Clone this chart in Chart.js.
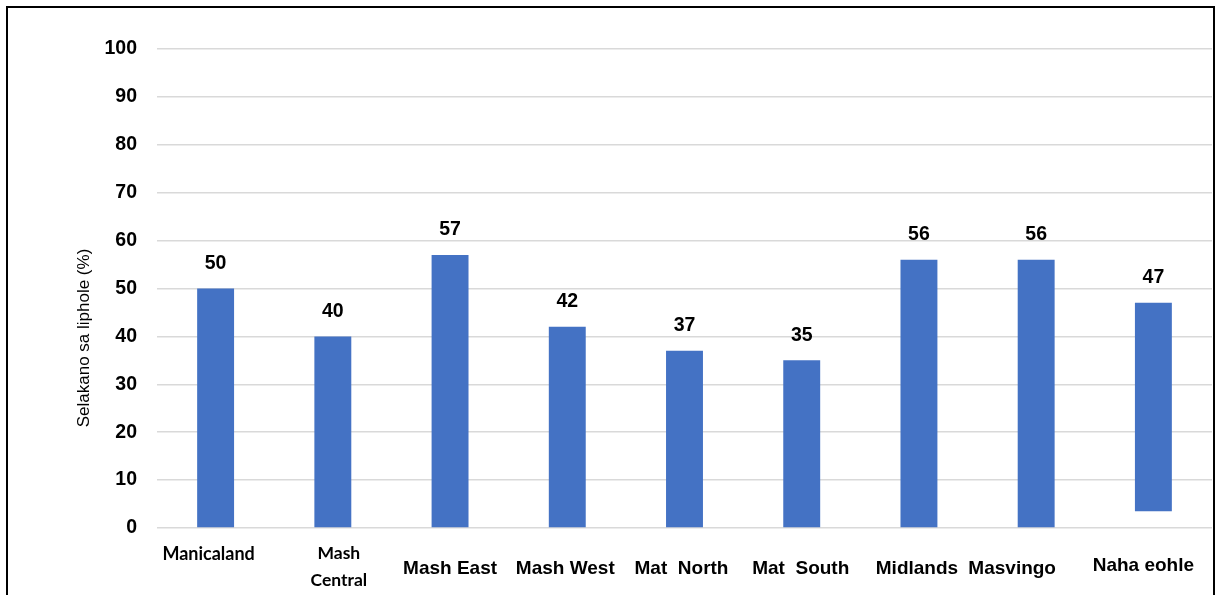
<!DOCTYPE html>
<html>
<head>
<meta charset="utf-8">
<title>Selakano sa liphole</title>
<script src="https://cdn.jsdelivr.net/npm/chart.js@4/dist/chart.umd.min.js"></script>
<style>
  html, body { margin: 0; padding: 0; background: #ffffff; }
  #wrap { width: 1221px; height: 595px; }
</style>
</head>
<body>
<div id="wrap"><canvas id="chart" width="1221" height="595"></canvas></div>
<script>
// Provinces (x categories)
const categories = ['Manicaland', 'Mash Central', 'Mash East', 'Mash West', 'Mat  North', 'Mat  South', 'Midlands', 'Masvingo', 'Naha eohle'];
// How each category name is broken onto lines
const categoryLines = [['Manicaland'], ['Mash', 'Central'], ['Mash East'], ['Mash West'], ['Mat  North'], ['Mat  South'], ['Midlands'], ['Masvingo'], ['Naha eohle']];
// Percentage per province (top of each bar, also the printed value)
const values = [50, 40, 57, 42, 37, 35, 56, 56, 47];
// Where each bar starts (the total bar is floating)
const bases = [0, 0, 0, 0, 0, 0, 0, 0, 3.5];
// Y axis ticks
const yTicks = [0, 10, 20, 30, 40, 50, 60, 70, 80, 90, 100];
const yTitle = 'Selakano sa liphole (%)';

// Per-label placement/styling of the category names
const labelStyle = [
  { font: 'bold 18px Lato', dx: -7, dy: 26, lh: 27 },
  { font: 'bold 17.5px Lato', dx: 6, dy: 25, lh: 27 },
  { font: 'bold 19px "Liberation Sans"', dx: 0, dy: 41, lh: 20 },
  { font: 'bold 19px "Liberation Sans"', dx: -2, dy: 41, lh: 20 },
  { font: 'bold 19px "Liberation Sans"', dx: -3, dy: 41, lh: 20 },
  { font: 'bold 19px "Liberation Sans"', dx: -1, dy: 41, lh: 20 },
  { font: 'bold 19px "Liberation Sans"', dx: -2, dy: 41, lh: 20 },
  { font: 'bold 19px "Liberation Sans"', dx: -24, dy: 41, lh: 20 },
  { font: 'bold 19px "Liberation Sans"', dx: -10, dy: 38, lh: 20 }
];

const BAR_BLUE = '#4472C4';

// Outer frame of the figure
const framePlugin = {
  id: 'frame',
  afterDraw(chart) {
    const ctx = chart.ctx;
    ctx.save();
    ctx.strokeStyle = '#000000';
    ctx.lineWidth = 2;
    ctx.beginPath();
    ctx.moveTo(7, 610);
    ctx.lineTo(7, 7);
    ctx.lineTo(1214, 7);
    ctx.lineTo(1214, 610);
    ctx.stroke();
    ctx.restore();
  }
};

// Value labels above bars, category names and rotated axis title
const labelsPlugin = {
  id: 'labels',
  afterDatasetsDraw(chart) {
    const ctx = chart.ctx;
    const xs = chart.scales.x;
    const ys = chart.scales.y;
    ctx.save();
    ctx.fillStyle = '#000000';
    ctx.textAlign = 'center';
    ctx.textBaseline = 'middle';

    // values
    ctx.font = 'bold 19.5px "Liberation Sans"';
    values.forEach((v, i) => {
      const x = xs.getPixelForValue(i);
      const y = ys.getPixelForValue(v) - 25;
      ctx.fillText(String(v), x, y);
    });

    // category names
    categoryLines.forEach((lines, i) => {
      const st = labelStyle[i];
      ctx.font = st.font;
      const x = xs.getPixelForValue(i) + st.dx;
      lines.forEach((ln, k) => {
        ctx.fillText(ln, x, ys.bottom + st.dy + k * st.lh);
      });
    });

    // axis title
    ctx.font = '17px "Liberation Sans"';
    ctx.translate(84, 338);
    ctx.rotate(-Math.PI / 2);
    ctx.fillText(yTitle, 0, 0);
    ctx.restore();
  }
};

new Chart(document.getElementById('chart'), {
  type: 'bar',
  data: {
    labels: categories,
    datasets: [{
      data: values.map((v, i) => [bases[i], v]),
      backgroundColor: BAR_BLUE,
      borderWidth: 0,
      barPercentage: 0.315,
      categoryPercentage: 1.0
    }]
  },
  options: {
    responsive: false,
    animation: false,
    devicePixelRatio: 1,
    layout: { padding: { top: 49, right: 9, left: 0, bottom: 0 } },
    plugins: {
      legend: { display: false },
      tooltip: { enabled: false },
      title: { display: false }
    },
    scales: {
      x: {
        grid: { display: false },
        border: { display: false },
        ticks: { display: false },
        afterFit(scale) { scale.height = 595 - 528; }
      },
      y: {
        min: 0,
        max: 100,
        afterBuildTicks(scale) { scale.ticks = yTicks.map(v => ({ value: v })); },
        afterFit(scale) { scale.width = 157; },
        grid: { color: '#d9d9d9', lineWidth: 1.5, drawTicks: false },
        border: { display: false },
        ticks: {
          padding: 20,
          color: '#000000',
          font: { family: '"Liberation Sans"', size: 19.5, weight: 'bold' }
        }
      }
    }
  },
  plugins: [framePlugin, labelsPlugin]
});
</script>
</body>
</html>
